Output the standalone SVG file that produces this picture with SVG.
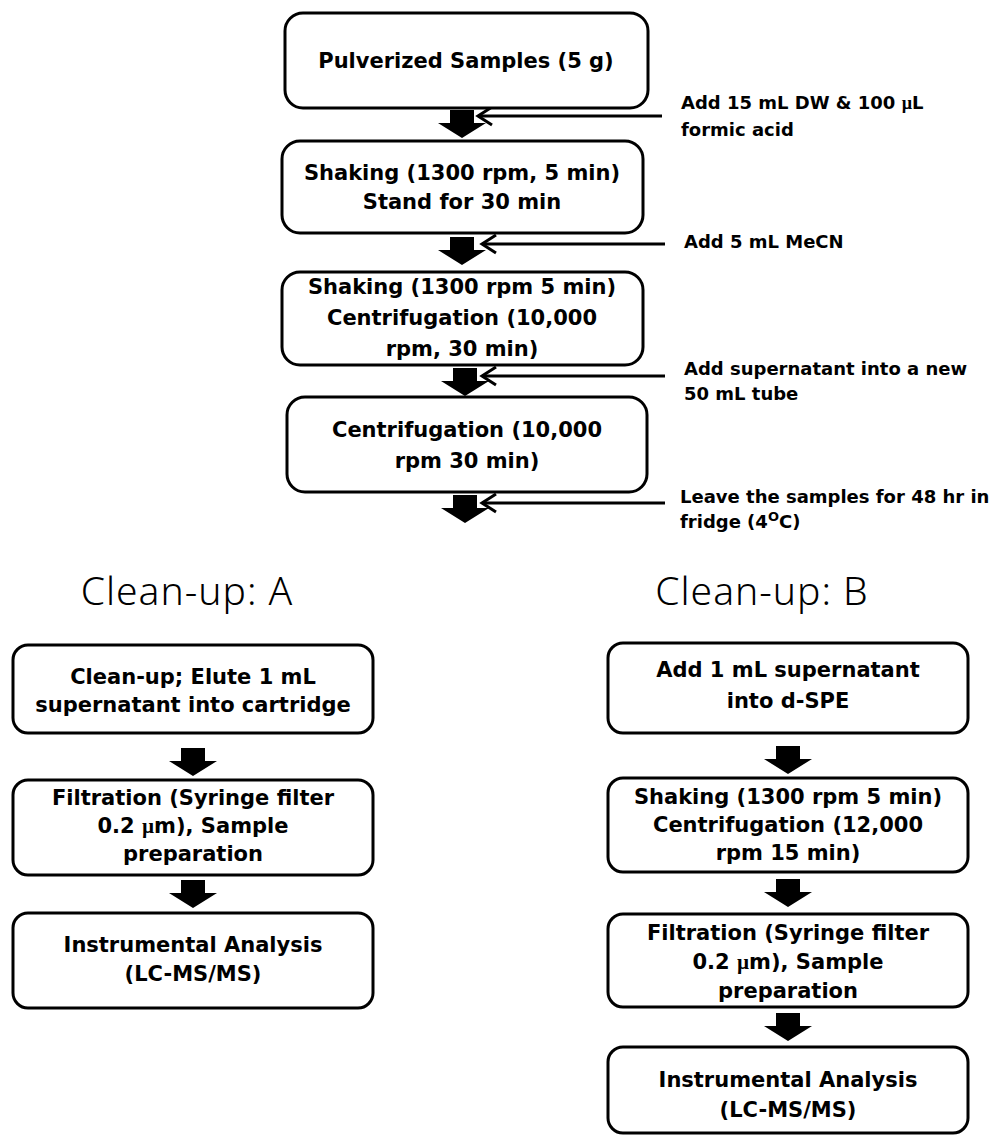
<svg xmlns="http://www.w3.org/2000/svg" width="998" height="1135" viewBox="0 0 998 1135">
<defs>
<style>
.box{fill:#fff;stroke:#000;stroke-width:3}
.t{font-family:"DejaVu Sans","Noto Sans",sans-serif;font-weight:bold;font-size:21px;fill:#000;text-anchor:middle}
.s{font-family:"DejaVu Sans","Noto Sans",sans-serif;font-weight:bold;font-size:18px;fill:#000}
.h{font-family:"Noto Sans","DejaVu Sans",sans-serif;font-weight:300;font-size:39px;letter-spacing:1px;fill:#000;text-anchor:middle}
.mu{font-family:"Liberation Serif",serif}
.side{fill:none;stroke:#000;stroke-width:3}
.big{fill:#000}
</style>
<marker id="chev" markerWidth="20" markerHeight="22" refX="16" refY="11" orient="auto" markerUnits="userSpaceOnUse">
<path d="M2,2 L16,11 L2,20" fill="none" stroke="#000" stroke-width="3"/>
</marker>
<path id="bigArrow" d="M-12,0 H12 V13 H24 L0,28 L-24,13 H-12 Z"/>
</defs>
<rect width="998" height="1135" fill="#fff"/>

<g id="connectors">
<use href="#bigArrow" x="462" y="110" class="big"/>
<use href="#bigArrow" x="462" y="237" class="big"/>
<use href="#bigArrow" x="465" y="368" class="big"/>
<use href="#bigArrow" x="465" y="495" class="big"/>
<line class="side" x1="662" y1="116" x2="478" y2="116" marker-end="url(#chev)"/>
<line class="side" x1="665" y1="244" x2="482" y2="244" marker-end="url(#chev)"/>
<line class="side" x1="665" y1="376" x2="482" y2="376" marker-end="url(#chev)"/>
<line class="side" x1="665" y1="503" x2="482" y2="503" marker-end="url(#chev)"/>
<use href="#bigArrow" x="193" y="748" class="big"/>
<use href="#bigArrow" x="193" y="880" class="big"/>
<use href="#bigArrow" x="788" y="746" class="big"/>
<use href="#bigArrow" x="788" y="879" class="big"/>
<use href="#bigArrow" x="788" y="1013" class="big"/>
</g>

<g id="n1"><rect class="box" x="285" y="13" width="363" height="95" rx="18"/>
<text class="t" x="466" y="68">Pulverized Samples (5 g)</text></g>
<g id="n2"><rect class="box" x="282" y="141" width="361" height="92" rx="18"/>
<text class="t" x="462" y="180">Shaking (1300 rpm, 5 min)</text>
<text class="t" x="462" y="209">Stand for 30 min</text></g>
<g id="n3"><rect class="box" x="282" y="272" width="361" height="93" rx="18"/>
<text class="t" x="462" y="294">Shaking (1300 rpm 5 min)</text>
<text class="t" x="462" y="325">Centrifugation (10,000</text>
<text class="t" x="462" y="356">rpm, 30 min)</text></g>
<g id="n4"><rect class="box" x="287" y="397" width="360" height="95" rx="18"/>
<text class="t" x="467" y="437">Centrifugation (10,000</text>
<text class="t" x="467" y="468">rpm 30 min)</text></g>

<g id="l1"><text class="s" x="681" y="109">Add 15 mL DW &amp; 100 <tspan class="mu">µ</tspan>L</text>
<text class="s" x="681" y="136">formic acid</text></g>
<g id="l2"><text class="s" x="684" y="248">Add 5 mL MeCN</text></g>
<g id="l3"><text class="s" x="684" y="375">Add supernatant into a new</text>
<text class="s" x="684" y="400">50 mL tube</text></g>
<g id="l4"><text class="s" x="680" y="503">Leave the samples for 48 hr in</text>
<text class="s" x="680" y="528">fridge (4<tspan font-size="13" dy="-7">O</tspan><tspan dy="7">C)</tspan></text></g>

<g id="titleA"><text class="h" x="187" y="605">Clean-up: A</text></g>
<g id="titleB"><text class="h" x="762" y="605">Clean-up: B</text></g>

<g id="a1"><rect class="box" x="13" y="645" width="360" height="88" rx="15"/>
<text class="t" x="193" y="684">Clean-up; Elute 1 mL</text>
<text class="t" x="193" y="712">supernatant into cartridge</text></g>
<g id="a2"><rect class="box" x="13" y="780" width="360" height="95" rx="15"/>
<text class="t" x="193" y="805">Filtration (Syringe filter</text>
<text class="t" x="193" y="833">0.2 <tspan class="mu">µ</tspan>m), Sample</text>
<text class="t" x="193" y="861">preparation</text></g>
<g id="a3"><rect class="box" x="13" y="913" width="360" height="95" rx="15"/>
<text class="t" x="193" y="952">Instrumental Analysis</text>
<text class="t" x="193" y="981">(LC-MS/MS)</text></g>

<g id="b1"><rect class="box" x="608" y="643" width="360" height="90" rx="15"/>
<text class="t" x="788" y="677">Add 1 mL supernatant</text>
<text class="t" x="788" y="708">into d-SPE</text></g>
<g id="b2"><rect class="box" x="608" y="778" width="360" height="94" rx="15"/>
<text class="t" x="788" y="804">Shaking (1300 rpm 5 min)</text>
<text class="t" x="788" y="832">Centrifugation (12,000</text>
<text class="t" x="788" y="860">rpm 15 min)</text></g>
<g id="b3"><rect class="box" x="608" y="914" width="360" height="93" rx="15"/>
<text class="t" x="788" y="940">Filtration (Syringe filter</text>
<text class="t" x="788" y="969">0.2 <tspan class="mu">µ</tspan>m), Sample</text>
<text class="t" x="788" y="998">preparation</text></g>
<g id="b4"><rect class="box" x="608" y="1047" width="360" height="86" rx="15"/>
<text class="t" x="788" y="1087">Instrumental Analysis</text>
<text class="t" x="788" y="1117">(LC-MS/MS)</text></g>
</svg>
